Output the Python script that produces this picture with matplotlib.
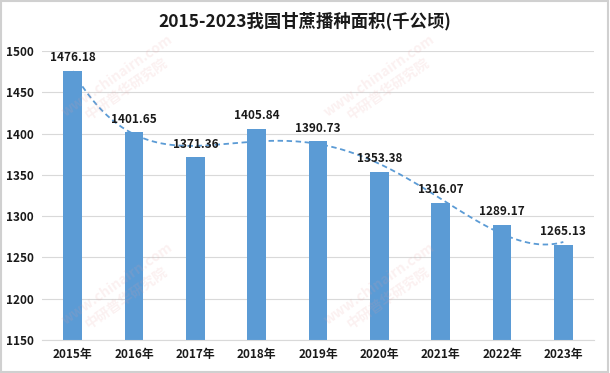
import matplotlib
matplotlib.use("Agg")
import matplotlib.pyplot as plt
import numpy as np
from matplotlib.patches import Rectangle

plt.rcParams['font.family'] = ['Noto Sans CJK SC', 'DejaVu Sans']

years = ['2015年', '2016年', '2017年', '2018年', '2019年', '2020年', '2021年', '2022年', '2023年']
values = [1476.18, 1401.65, 1371.36, 1405.84, 1390.73, 1353.38, 1316.07, 1289.17, 1265.13]
yticks = [1150, 1200, 1250, 1300, 1350, 1400, 1450, 1500]

fig = plt.figure(figsize=(6.10, 3.73), dpi=100)
ax = fig.add_axes([42/610, 1-340/373, (594-42)/610, (340-51)/373])

x = np.arange(len(years))
ax.bar(x, np.array(values) - 1150, bottom=1150, width=0.3, color='#5B9BD5', zorder=2)

# trendline (polynomial fit of the data)
coef = np.polyfit(x, values, 4)
xs = np.linspace(0, len(years) - 1, 300)
ax.plot(xs, np.polyval(coef, xs), ls=(0, (3, 2)), color='#5B9BD5', lw=1.3, zorder=3)

for xi, v in zip(x, values):
    ax.text(xi, v + 8, f'{v:.2f}', ha='center', va='bottom', fontsize=8.5, fontweight='bold', color='#1a1a1a', zorder=4)

ax.set_xlim(-0.5, len(years) - 0.5)
ax.set_ylim(1150, 1500)
ax.set_yticks(yticks)
ax.set_xticks(x)
ax.set_xticklabels(years)
ax.grid(axis='y', color='#d9d9d9', lw=0.8, zorder=0)
for s in ['top', 'right', 'left']:
    ax.spines[s].set_visible(False)
ax.spines['bottom'].set_color('#d9d9d9')
ax.tick_params(length=0, labelsize=8.5, pad=6)
for lab in ax.get_xticklabels() + ax.get_yticklabels():
    lab.set_fontweight('bold')
    lab.set_color('#1a1a1a')

fig.text(0.5, 1 - 21/373, '2015-2023我国甘蔗播种面积(千公顷)', ha='center', va='center',
         fontsize=12.5, fontweight='bold', color='#1a1a1a')

# faint watermarks
for (wx, wy) in [(0.2, 0.78), (0.63, 0.78), (0.2, 0.22), (0.63, 0.22)]:
    fig.text(wx, wy, 'www.chinairn.com\n中研普华研究院', rotation=35, ha='center', va='center',
             fontsize=10, fontweight='bold', color='#e8a0a0', alpha=0.15)

fig.patches.append(Rectangle((0.002, 0.003), 0.995, 0.993, transform=fig.transFigure,
                             fill=False, ec='#d0d0d0', lw=1.5))

fig.savefig('out.png', dpi=100)
